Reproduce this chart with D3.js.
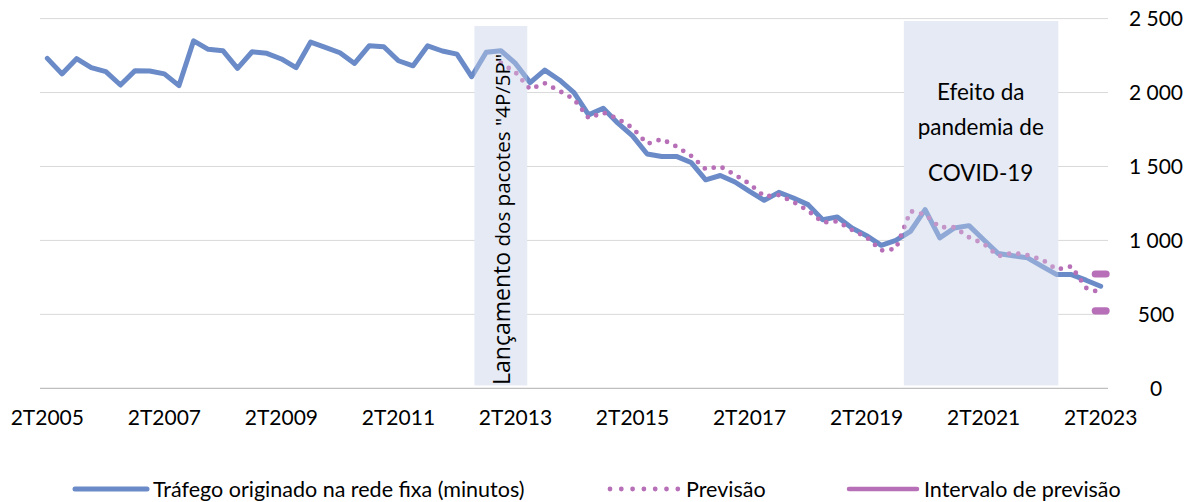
<!DOCTYPE html>
<html><head><meta charset="utf-8">
<script src="https://cdn.jsdelivr.net/npm/d3@7"></script>
<style>body{margin:0;background:#fff;} svg{display:block;}</style>
</head><body><svg id="c" width="1199" height="502"></svg>
<script>
// ---------- DATA ----------
const categories = [
  "2T2005","3T2005","4T2005",
  "1T2006","2T2006","3T2006","4T2006",
  "1T2007","2T2007","3T2007","4T2007",
  "1T2008","2T2008","3T2008","4T2008",
  "1T2009","2T2009","3T2009","4T2009",
  "1T2010","2T2010","3T2010","4T2010",
  "1T2011","2T2011","3T2011","4T2011",
  "1T2012","2T2012","3T2012","4T2012",
  "1T2013","2T2013","3T2013","4T2013",
  "1T2014","2T2014","3T2014","4T2014",
  "1T2015","2T2015","3T2015","4T2015",
  "1T2016","2T2016","3T2016","4T2016",
  "1T2017","2T2017","3T2017","4T2017",
  "1T2018","2T2018","3T2018","4T2018",
  "1T2019","2T2019","3T2019","4T2019",
  "1T2020","2T2020","3T2020","4T2020",
  "1T2021","2T2021","3T2021","4T2021",
  "1T2022","2T2022","3T2022","4T2022",
  "1T2023","2T2023"
];
const traffic = [
  2231,2126,2229,2168,2141,2051,2148,2146,2126,2047,
  2350,2292,2283,2164,2276,2265,2227,2168,2341,2306,
  2269,2197,2316,2310,2215,2181,2316,2281,2260,2107,
  2272,2283,2197,2067,2152,2085,2000,1849,1894,1793,
  1707,1584,1568,1568,1527,1410,1439,1395,1331,1271,
  1325,1287,1242,1140,1159,1084,1032,967,1001,1062,
  1208,1017,1084,1100,1005,911,897,882,825,769,
  769,731,690
];
const forecastFrom = "1T2013";
const forecast = [
  2200,2137,2022,2063,2011,1955,1827,1865,1822,1761,
  1653,1685,1635,1572,1482,1500,1444,1383,1298,1307,
  1260,1201,1122,1129,1071,1021,932,943,1198,1175,
  1089,1089,1021,978,893,916,900,870,803,825,
  679,646
];
const intervalCategory = "2T2023";
const intervalBounds = [524, 773];
const xTickLabels = ["2T2005","2T2007","2T2009","2T2011","2T2013","2T2015","2T2017","2T2019","2T2021","2T2023"];
const yTicks = [0,500,1000,1500,2000,2500];
// shaded periods (fractional category index) and value range
const shadeFrom = [29.7, 59.05];
const shadeTo = [33.3, 69.6];
const shadeLow = [20, 20];
const shadeHigh = [2450, 2483];
const legendLabels = ["Tráfego originado na rede fixa (minutos)", "Previsão", "Intervalo de previsão"];

// ---------- CHART ----------
const BLUE = "#6a8bc7", PINK = "#b770b7", SHADE = "#e6eaf4";
const svg = d3.select("#c");
const x = d3.scaleBand().domain(categories).range([40, 1108]).padding(0);
const xc = c => x(c) + x.bandwidth() / 2;
const xi = d3.scaleLinear().domain([0, categories.length]).range([40, 1108]);
const y = d3.scaleLinear().domain([0, 2500]).range([388.3, 18.6]);
const fmt = d3.formatLocale({thousands: "\u00a0", grouping: [3], decimal: ","}).format(",d");

// gridlines
svg.append("g").selectAll("line").data(yTicks.filter(t => t > 0)).join("line")
  .attr("x1", 40).attr("x2", 1108)
  .attr("y1", d => y(d)).attr("y2", d => y(d))
  .attr("stroke", "#d9d9d9").attr("stroke-width", 1);

const shades = shadeFrom.map((f, i) => ({f, t: shadeTo[i], lo: shadeLow[i], hi: shadeHigh[i]}));
const drawShades = (op) => svg.append("g").selectAll("rect").data(shades).join("rect")
  .attr("x", d => xi(d.f)).attr("width", d => xi(d.t) - xi(d.f))
  .attr("y", d => y(d.hi)).attr("height", d => y(d.lo) - y(d.hi))
  .attr("fill", SHADE).attr("opacity", op);
drawShades(1);

// axis line at 0
svg.append("line").attr("x1", 40).attr("x2", 1108).attr("y1", y(0)).attr("y2", y(0))
  .attr("stroke", "#bfbfbf").attr("stroke-width", 1.3);

// traffic line
const trafficData = categories.map((c, i) => ({c, v: traffic[i]}));
const line = d3.line().x(d => xc(d.c)).y(d => y(d.v));
svg.append("path").datum(trafficData).attr("d", line)
  .attr("fill", "none").attr("stroke", BLUE).attr("stroke-width", 5)
  .attr("stroke-linejoin", "round").attr("stroke-linecap", "round");

// forecast dotted
const fStart = categories.indexOf(forecastFrom);
const forecastData = forecast.map((v, i) => ({c: categories[fStart + i], v}));
svg.append("path").datum(forecastData).attr("d", line)
  .attr("fill", "none").attr("stroke", PINK).attr("stroke-width", 4.8)
  .attr("stroke-linecap", "round").attr("stroke-dasharray", "0,9.3");

// overlay shading (semi-transparent, lightens series)
drawShades(0.3);

// interval markers
svg.append("g").selectAll("rect").data(intervalBounds).join("rect")
  .attr("x", xc(intervalCategory) - 9).attr("width", 18)
  .attr("y", d => y(d) - 3.6).attr("height", 7.2).attr("rx", 3.6)
  .attr("fill", PINK);

// y axis (right)
const ya = svg.append("g").attr("transform", "translate(1156,0)")
  .call(d3.axisRight(y).tickValues(yTicks).tickSize(0).tickFormat(fmt));
ya.select(".domain").remove();
ya.selectAll("text").attr("x", 0).attr("text-anchor", "middle")
  .attr("font-family", "Lato").attr("font-size", 21).attr("fill", "#000");

// x axis
const xa = svg.append("g").attr("transform", `translate(0,${y(0)})`)
  .call(d3.axisBottom(x).tickValues(xTickLabels).tickSize(0));
xa.select(".domain").remove();
xa.selectAll("text").attr("y", 37).attr("dy", null)
  .attr("font-family", "Lato").attr("font-size", 21).attr("fill", "#000");

// annotations
const rot = svg.append("text").attr("transform", `translate(${xi(31.5)+9},385) rotate(-90)`)
  .attr("font-family", "Open Sans").attr("fill", "#000");
rot.append("tspan").attr("font-size", 23).text("Lançamento");
rot.append("tspan").attr("font-size", 20.6).text(" dos pacotes \"4P/5P\"");

const covidLines = [["Efeito da", 100], ["pandemia de", 135], ["COVID-19", 181]];
svg.append("g").selectAll("text").data(covidLines).join("text")
  .attr("x", xi(64.3)).attr("y", d => d[1]).attr("text-anchor", "middle")
  .attr("font-family", "Lato").attr("font-size", 22.5).attr("fill", "#000")
  .text(d => d[0]);

// legend
const lg = svg.append("g").attr("font-family", "Lato").attr("font-size", 21.5);
const LY = 489;
lg.append("line").attr("x1", 75).attr("x2", 147).attr("y1", LY).attr("y2", LY)
  .attr("stroke", BLUE).attr("stroke-width", 5).attr("stroke-linecap", "round");
lg.append("text").attr("x", 153).attr("y", LY).attr("dy", "0.36em").text(legendLabels[0]);
lg.append("line").attr("x1", 610).attr("x2", 678).attr("y1", LY).attr("y2", LY)
  .attr("stroke", PINK).attr("stroke-width", 4.8).attr("stroke-linecap", "round")
  .attr("stroke-dasharray", "0,11.3");
lg.append("text").attr("x", 686).attr("y", LY).attr("dy", "0.36em").text(legendLabels[1]);
lg.append("line").attr("x1", 849).attr("x2", 917).attr("y1", LY).attr("y2", LY)
  .attr("stroke", PINK).attr("stroke-width", 4.5).attr("stroke-linecap", "round");
lg.append("text").attr("x", 924).attr("y", LY).attr("dy", "0.36em").text(legendLabels[2]);
</script>
</body></html>
